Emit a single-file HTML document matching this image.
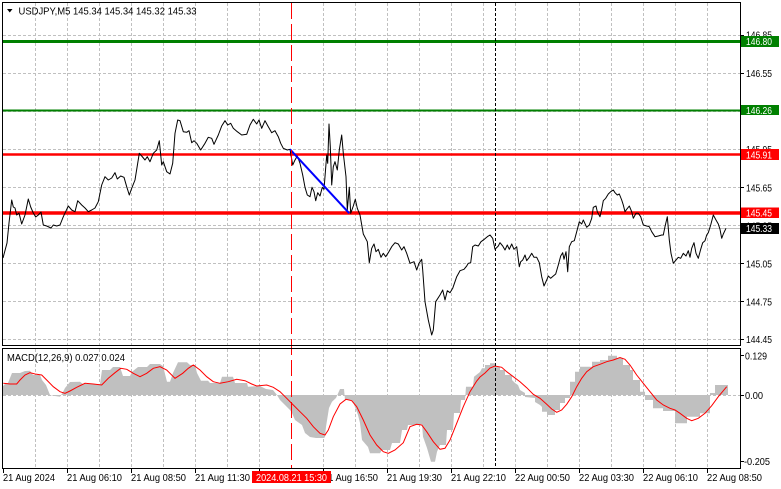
<!DOCTYPE html>
<html><head><meta charset="utf-8"><style>
html,body{margin:0;padding:0;background:#fff;}
svg{display:block;}
text{font-family:"Liberation Sans",sans-serif;font-size:10.5px;fill:#000;}
</style></head><body>
<svg width="781" height="489" viewBox="0 0 781 489" xmlns="http://www.w3.org/2000/svg">
<rect width="781" height="489" fill="#fff"/>
<!-- grids -->
<g stroke="#c0c0c0" stroke-width="1" stroke-dasharray="3,2" fill="none">
<path d="M35.5 3V345M67.5 3V345M99.5 3V345M131.5 3V345M163.5 3V345M195.5 3V345M227.5 3V345M259.5 3V345M323.5 3V345M355.5 3V345M387.5 3V345M419.5 3V345M451.5 3V345M483.5 3V345M515.5 3V345M547.5 3V345M579.5 3V345M611.5 3V345M643.5 3V345M675.5 3V345M707.5 3V345"/>
<path d="M35.5 349V468M67.5 349V468M99.5 349V468M131.5 349V468M163.5 349V468M195.5 349V468M227.5 349V468M259.5 349V468M323.5 349V468M355.5 349V468M387.5 349V468M419.5 349V468M451.5 349V468M483.5 349V468M515.5 349V468M547.5 349V468M579.5 349V468M611.5 349V468M643.5 349V468M675.5 349V468M707.5 349V468"/>
<path d="M3 35.5H740M3 73.5H740M3 111.5H740M3 149.5H740M3 187.5H740M3 225.5H740M3 263.5H740M3 301.5H740M3 339.5H740M3 395.5H740"/>
</g>
<!-- level lines -->
<line x1="3" y1="41.5" x2="740" y2="41.5" stroke="#008000" stroke-width="3"/>
<line x1="3" y1="110.5" x2="740" y2="110.5" stroke="#008000" stroke-width="2"/>
<line x1="3" y1="154.5" x2="740" y2="154.5" stroke="#ff0000" stroke-width="2.5"/>
<line x1="3" y1="213" x2="740" y2="213" stroke="#ff0000" stroke-width="3.5"/>
<line x1="3" y1="228.5" x2="740" y2="228.5" stroke="#c0c0c0" stroke-width="1"/>
<!-- price -->
<polyline fill="none" stroke="#000" stroke-width="1" stroke-linejoin="round" points="3,258 7,243 9,223 11.7,200 13.3,207 15,208 16.7,215 19,213 21.7,224 25,215 28.3,199 30.7,207 33.3,213 35.7,217 38.3,215 41,212 43.3,225 46.7,226 51,228 53.3,225 56.7,226 60,225 63.3,216.7 68.3,206 71.7,210 75,211.7 77.7,200.7 81.7,205 85,208 88.3,211.7 91.7,210 95,208 98.3,201.7 101.7,185 105,176.7 108.3,180 111.7,178 115,172.7 117.3,179 120.7,176 124,177.3 126.7,186.7 129.3,195 131.7,188.3 135,180 139.3,153.3 141.7,156 145,160 147.3,156.7 150,161.7 153.3,153.3 156.7,150 159.3,140.7 161.7,165 163.3,161.7 166.7,171.7 170,174 172.7,163.3 175,133.3 177.7,120 180,120.7 183.3,131.7 186.7,132.3 189,130.7 191.7,142.7 194,140.7 196.7,143.3 200.7,150 205,143.3 208.3,137.3 211.7,138.3 214,144.3 218.3,135 221.7,126 225,120.7 227.7,125 230.7,123.3 233.3,128.3 237.3,131.7 241.7,135 246.7,134.3 250,125 253.3,119.3 256.7,124 259,120 261.7,128.3 265,120.7 268.3,126.7 271.7,132.7 275,130.7 278.3,136.7 280.7,143.3 283.3,148.3 287.3,150 290,149.3 292.7,165 295,160 297.3,156 300,163.3 302.7,175 305,187.3 307.3,195 310,196.7 312,187.3 314,191.7 315.7,200.7 317.7,192.7 320,196 322.3,187.3 324,189.3 326.7,155 327.7,163.3 329,124 330.3,146.7 331.7,185 333.3,166.7 335,161.7 337.3,170 339.3,150 341.7,135 343.3,153.3 346,176.7 347.3,210 349.3,187.3 350.7,213.3 353.3,206 355.3,199.3 357.3,208.3 360,215 363.3,234 367.3,241.7 369.3,262.7 371.7,248.3 374,244 376,251.7 378.3,249.3 381,257.3 383.3,253.3 385.7,256.7 388.3,252.7 391.7,246.7 395,242.7 398.3,244 401.7,250 404,246.7 406.7,253.3 410,263.3 414,261.7 416.7,270 419,263.3 421.7,259.3 422.7,270 425,301.7 428.3,320 431.7,335 433.3,330 435.7,301.7 440,295 442.7,290 445,300 447.3,290.7 450,292.7 452.7,288.3 456.7,276.7 460,270.7 464,269.3 466.7,266 468.3,263.3 470.7,262.7 472.7,246.7 475,245 478.3,246 481,241.7 484.3,239.3 487.3,236.7 490,235 492.7,238.3 495,249.3 498.3,246 500,242.7 502.7,246 505,250 507.3,245 509.3,249.3 511.7,244 514,249.3 516.7,246.7 519.3,266.7 520.7,261.7 522.7,260 525,255 526.7,260.7 529.3,257.3 531.7,253.3 534,257.3 536.7,257.3 539.3,262.7 541.7,276.7 544,286 546.7,280 548.3,276 550.7,278.3 553.3,276 555.7,274 558.3,265 560.7,256 562.7,252.7 564,259.3 566,251.7 567.7,271.7 569.3,246.7 571.7,241.7 574.3,240.7 576.7,231.7 579.3,221.7 581.7,224 583.3,220 586.7,227.3 589.3,225 591.7,218.3 593.3,207.3 596,206 597.3,211.7 600,216.7 601.7,209.3 603.3,200.7 605.7,198.3 608.3,194 610.7,191.7 613.3,190 615,192.7 617.3,195 619.3,194 621.7,200 623.3,205 625,211.7 626.7,209.3 629.3,206 631.7,211.7 633.3,218.3 636,213.3 638.3,213.3 640.7,216.7 643.3,225 646.7,226 649.3,226.7 651.7,231.7 655,236.7 658.3,236 661.7,235 663.3,235 665,226.7 667.3,216.7 669.3,240 671,253.3 673.3,263.3 676,260 678.3,257.3 680.7,258.3 683.3,253.3 686,256 688.3,250.7 690,257.3 691.7,248.3 694,242.7 696,253.3 698.3,258.3 700.7,249.3 702.7,242.7 705,240.7 706.7,235 708.3,232.7 710.7,225 713.3,215 716,220 718.3,224 720,229.3 721.7,238.3 723.3,234 726,228.3"/>
<line x1="290" y1="149.3" x2="349.3" y2="213.3" stroke="#0000ff" stroke-width="2"/>
<!-- MACD histogram -->
<polygon fill="#c0c0c0" points="3,395 3,386 6,383 8,383 12,373 20,373 25,371 30,370.7 33,375 40,375 42,380 46,385 50,395 55,396 60,396.7 63,392 65,388 70,382 80,381.7 83,384 100,384 102,370 110,370 113,367 120,367 123,376 130,376 132,371.7 138,367 147,367 150,364 160,364 163,366 167,381.7 170,381.7 173,373 178,362.3 187,362.3 190,365 195,365 197,373 201,380.7 208,380.7 210,383 220,383 222,376.7 233,376.7 235,383 247,383 248,386.7 260,386 266,389 273,390 277,395 280,400 285,405 290,410 292,413 295,420 302,425 305,433 310,437 316,438 324,438 325,437 326,426.7 329,408 332,401.7 336,398 340,389 344,389 345,400 352,400 355,407 358,415 360,423 362,440 368,447 370,453.3 380,453.3 382,450 390,450 392,443 400,443 402,430 407,430 408,425 417,425 422,424 423,436.7 427,448 431,461.7 435,461.7 437,451.7 440,445 446,445 447,430 453,430 454,413 460,413 461,400 465,400 466,386.7 473,386.7 474,376.7 480,372 482,368.3 485,368.3 485,365 490,365 490,363.3 495,363.3 495,366.7 500,366.7 500,370 505,370 505,375 512,375 512,380 515,383 518,385 520,390 525,393 525,397 535,398 535,402 540,405 542,407 542,411.7 547,411.7 547,415 555,415 555,410 560,410 560,403 565,403 565,398 570,398 570,381.7 575,381.7 575,371.7 580,371.7 580,366.7 592,366.7 592,361.7 600,361.7 600,360 608,360 608,355.7 617,355.7 617,358 623,358 623,365 630,365 630,370 633,370 633,380 640,380 640,391.7 645,391.7 645,400 653,400 653,408.3 663,408.3 663,411 675,411 675,423.3 687,423.3 687,416.7 700,416.7 700,413.3 710,413.3 710,393 715,393 715,385 728,385 728,395"/>
<line x1="3" y1="395.5" x2="740" y2="395.5" stroke="#c0c0c0" stroke-width="1" stroke-dasharray="3,2"/>
<polyline fill="none" stroke="#ff0000" stroke-width="1" points="3.3,383.3 10,384 16.7,384 20,380 25,375 30,372.7 35,374 41.7,375 46.7,380 53.3,386.7 60,391.7 65,393.3 70,391 76.7,387.3 85,383.3 93.3,384 101.7,385 108.3,378.3 115,372.7 120.7,368.3 126.7,369.3 133.3,373.3 140,376.7 146.7,373.3 153.3,368.3 160,366.7 166.7,370 175,378.3 182.7,373.3 188.3,368.3 193.3,365 200,370 206.7,376.7 213.3,381.7 220,383.3 228.3,381.7 236.7,379.3 245,380.7 251.7,384 256.7,386 266.7,385 273.3,387.3 280,391.7 286.7,398.3 293.3,405 300,411.7 306.7,418.3 313.3,426.7 320,433.3 325,435 328.3,430 333.3,416.7 340,404 346,399.3 351.7,400.7 356.7,406.7 363.3,420 370,435 376.7,445 383.3,451.7 388.3,453.3 395,450 403.3,442.7 410,426.7 416.7,424.3 421.7,425 426.7,431.7 433.3,441.7 440,449.3 445,448.3 450,440 456.7,423.3 463.3,406.7 470,391.7 476.7,381 480,377 485,373 490,368 495,366 501.7,367.3 506.7,371.7 513.3,376.7 520,381.7 526.7,387.7 533.3,394.3 540,398.3 546.7,404.3 551.7,409 556.7,412.3 561.7,410 566.7,404.3 571.7,396.7 576.7,386.7 581.7,378.3 586.7,371.7 593.3,366.7 600,364.3 606.7,361.7 613.3,360 620,357.5 625,359.3 630,365 636.7,375 643.3,383.3 650,391.7 656.7,400 663.3,405 670,408.3 675,410 680,413.3 686.7,418.3 691.7,420.7 698.3,418.3 705,413.3 711.7,405.7 718.3,396.7 726.7,386.7"/>
<!-- vertical markers -->
<line x1="291.5" y1="3" x2="291.5" y2="468" stroke="#ff0000" stroke-width="1" stroke-dasharray="16,5"/>
<line x1="495.5" y1="3" x2="495.5" y2="468" stroke="#000" stroke-width="1" stroke-dasharray="3,2"/>
<!-- borders -->
<g stroke="#000" stroke-width="1" fill="none">
<path d="M2.5 2.5H740.5V345.5H2.5Z"/>
<path d="M2.5 348.5H740.5V468.5H2.5Z"/>
<path d="M3.5 468V473M67.5 468V473M131.5 468V473M195.5 468V473M259.5 468V473M323.5 468V473M387.5 468V473M451.5 468V473M515.5 468V473M579.5 468V473M643.5 468V473M707.5 468V473"/>
<path d="M740 35.5H744M740 73.5H744M740 111.5H744M740 149.5H744M740 187.5H744M740 225.5H744M740 263.5H744M740 301.5H744M740 339.5H744M740 355.5H744M740 395.5H744M740 461.5H744"/>
</g>
<!-- title -->
<polygon points="7,9 12.5,9 9.75,12.5" fill="#000"/>
<text x="18.5" y="14.5" textLength="178" lengthAdjust="spacingAndGlyphs">USDJPY,M5  145.34 145.34 145.32 145.33</text>
<text x="7" y="361" textLength="118" lengthAdjust="spacingAndGlyphs">MACD(12,26,9) 0.027 0.024</text>
<!-- right axis -->
<g>
<text x="746" y="38.7" textLength="26" lengthAdjust="spacingAndGlyphs">146.85</text>
<text x="746" y="77.2" textLength="26" lengthAdjust="spacingAndGlyphs">146.55</text>
<text x="746" y="153.2" textLength="26" lengthAdjust="spacingAndGlyphs">145.95</text>
<text x="746" y="191.4" textLength="26" lengthAdjust="spacingAndGlyphs">145.65</text>
<text x="746" y="229.3" textLength="26" lengthAdjust="spacingAndGlyphs">145.35</text>
<text x="746" y="267.4" textLength="26" lengthAdjust="spacingAndGlyphs">145.05</text>
<text x="746" y="305.4" textLength="26" lengthAdjust="spacingAndGlyphs">144.75</text>
<text x="746" y="343" textLength="26" lengthAdjust="spacingAndGlyphs">144.45</text>
<text x="745" y="359.5" textLength="22" lengthAdjust="spacingAndGlyphs">0.129</text>
<text x="745" y="398.8" textLength="18" lengthAdjust="spacingAndGlyphs">0.00</text>
<text x="744" y="465" textLength="26" lengthAdjust="spacingAndGlyphs">-0.205</text>
</g>
<rect x="741" y="36" width="38" height="11" fill="#008000"/>
<text x="746" y="45.2" textLength="26" lengthAdjust="spacingAndGlyphs" style="fill:#fff">146.80</text>
<rect x="741" y="105" width="38" height="10" fill="#008000"/>
<text x="746" y="113.8" textLength="26" lengthAdjust="spacingAndGlyphs" style="fill:#fff">146.26</text>
<rect x="741" y="149" width="38" height="11" fill="#ff0000"/>
<text x="746" y="158.4" textLength="26" lengthAdjust="spacingAndGlyphs" style="fill:#fff">145.91</text>
<rect x="741" y="207.5" width="38" height="10.5" fill="#ff0000"/>
<text x="746" y="216.6" textLength="26" lengthAdjust="spacingAndGlyphs" style="fill:#fff">145.45</text>
<rect x="741" y="223" width="38" height="11" fill="#000"/>
<text x="746" y="232.2" textLength="26" lengthAdjust="spacingAndGlyphs" style="fill:#fff">145.33</text>
<!-- bottom axis -->
<g>
<text x="3" y="481" textLength="52" lengthAdjust="spacingAndGlyphs">21 Aug 2024</text>
<text x="67" y="481" textLength="55" lengthAdjust="spacingAndGlyphs">21 Aug 06:10</text>
<text x="131" y="481" textLength="55" lengthAdjust="spacingAndGlyphs">21 Aug 08:50</text>
<text x="195" y="481" textLength="55" lengthAdjust="spacingAndGlyphs">21 Aug 11:30</text>
<text x="323" y="481" textLength="55" lengthAdjust="spacingAndGlyphs">21 Aug 16:50</text>
<text x="387" y="481" textLength="55" lengthAdjust="spacingAndGlyphs">21 Aug 19:30</text>
<text x="451" y="481" textLength="55" lengthAdjust="spacingAndGlyphs">21 Aug 22:10</text>
<text x="515" y="481" textLength="55" lengthAdjust="spacingAndGlyphs">22 Aug 00:50</text>
<text x="579" y="481" textLength="55" lengthAdjust="spacingAndGlyphs">22 Aug 03:30</text>
<text x="643" y="481" textLength="55" lengthAdjust="spacingAndGlyphs">22 Aug 06:10</text>
<text x="707" y="481" textLength="55" lengthAdjust="spacingAndGlyphs">22 Aug 08:50</text>
</g>
<rect x="252" y="471" width="79" height="12" fill="#ff0000"/>
<text x="256" y="481" textLength="71" lengthAdjust="spacingAndGlyphs" style="fill:#fff">2024.08.21 15:30</text>
</svg>
</body></html>
